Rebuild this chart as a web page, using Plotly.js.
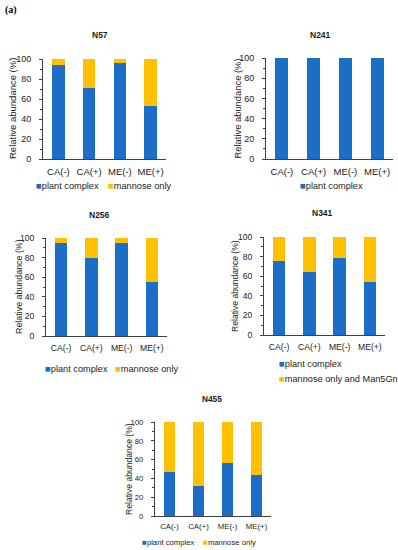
<!DOCTYPE html>
<html>
<head>
<meta charset="utf-8">
<script src="https://cdn.plot.ly/plotly-3.0.1.min.js"></script>
<style>html,body{margin:0;padding:0;background:#fff;}#chart{width:398px;height:550px;}</style>
</head>
<body>
<div id="chart"></div>
<script>
// ---- data ----
var categories = ['CA(-)', 'CA(+)', 'ME(-)', 'ME(+)'];
var panelTitles = ['N57', 'N241', 'N256', 'N341', 'N455'];
var n57Plant = [94, 71, 96, 53];
var n57Mannose = [6, 29, 4, 47];
var n241Plant = [100, 100, 100, 100];
var n256Plant = [95, 80, 95, 55];
var n256Mannose = [5, 20, 5, 45];
var n341Plant = [76, 64, 79, 54];
var n341Mannose = [24, 36, 21, 46];
var n455Plant = [47, 32, 56, 44];
var n455Mannose = [53, 68, 44, 56];
var yTickVals = [0, 20, 40, 60, 80, 100];
var seriesNames = ['plant complex', 'mannose only', 'mannose only and Man5Gn'];

// ---- style ----
var W = 398, H = 550;
var BLUE = '#1C6DC8', YELLOW = '#FFC000';
var FONT = 'Arial, "Liberation Sans", sans-serif';
var TXT = '#222';
function px(x) { return x / W; }
function py(y) { return 1 - y / H; }

// panel boxes in pixels: [x0, x1, yTop, yBottom]
var boxes = [
  [43, 166, 59, 159],
  [266, 393, 58, 159],
  [46, 167, 238, 336],
  [264, 385, 237, 335],
  [155, 271, 422, 516]
];
var tickSize = [9.5, 9.5, 8.6, 8.6, 7.8];
var yTickSize = [9, 9, 8.6, 8.6, 7.8];
var titleSize = [8.5, 8.5, 8.5, 8.5, 8.3];
var yTitleSize = [9.5, 9.4, 8.9, 8.6, 8.6];
var legendSize = [9.2, 9.2, 9.2, 9.2, 7.7];

var panels = [
  [n57Plant, n57Mannose, seriesNames[1]],
  [n241Plant, null, null],
  [n256Plant, n256Mannose, seriesNames[1]],
  [n341Plant, n341Mannose, seriesNames[2]],
  [n455Plant, n455Mannose, seriesNames[1]]
];

var traces = [];
var layout = {
  width: W, height: H,
  margin: {l: 0, r: 0, t: 0, b: 0},
  paper_bgcolor: '#fff', plot_bgcolor: '#fff',
  barmode: 'stack', bargap: 0.59,
  showlegend: false,
  font: {family: FONT, color: TXT, size: 9.5},
  annotations: [],
  shapes: []
};

panels.forEach(function (p, i) {
  var n = i === 0 ? '' : String(i + 1);
  var xa = 'x' + n, ya = 'y' + n;
  var b = boxes[i];
  traces.push({
    type: 'bar', x: categories, y: p[0], name: seriesNames[0],
    marker: {color: BLUE, line: {width: 0}}, xaxis: xa, yaxis: ya,
    hoverinfo: 'x+y+name'
  });
  if (p[1]) {
    traces.push({
      type: 'bar', x: categories, y: p[1], name: p[2],
      marker: {color: YELLOW, line: {width: 0}}, xaxis: xa, yaxis: ya,
      hoverinfo: 'x+y+name'
    });
  }
  layout['xaxis' + n] = {
    domain: [px(b[0]), px(b[1])], anchor: ya,
    type: 'category',
    showline: true, linecolor: '#404040', linewidth: 1,
    ticks: '', showgrid: false, zeroline: false,
    ticklabelstandoff: i === 4 ? 3 : 4,
    tickfont: {family: FONT, size: tickSize[i], color: TXT},
    fixedrange: true
  };
  layout['yaxis' + n] = {
    domain: [py(b[3]), py(b[2])], anchor: xa,
    range: [0, 100], tickvals: yTickVals,
    showline: true, linecolor: '#404040', linewidth: 1,
    ticks: 'outside', ticklen: 3, tickcolor: '#404040',
    ticklabelstandoff: 6,
    minor: {ticks: 'outside', ticklen: 2, dtick: 10, tickcolor: '#404040'},
    showgrid: false, zeroline: false,
    tickfont: {family: FONT, size: yTickSize[i], color: TXT},
    fixedrange: true
  };
});

// panel titles
var titlePos = [[100, 35], [320, 35], [100, 215], [322, 213], [212, 399]];
panelTitles.forEach(function (t, i) {
  layout.annotations.push({
    text: '<b>' + t + '</b>', xref: 'paper', yref: 'paper',
    x: px(titlePos[i][0]), y: py(titlePos[i][1]),
    xanchor: 'center', yanchor: 'middle', showarrow: false,
    font: {family: FONT, size: titleSize[i], color: TXT}
  });
});

// y axis titles
var yTitleX = [12, 237, 19, 235, 129];
boxes.forEach(function (b, i) {
  layout.annotations.push({
    text: 'Relative abundance (%)', xref: 'paper', yref: 'paper',
    x: px(yTitleX[i]), y: py((b[2] + b[3]) / 2),
    xanchor: 'center', yanchor: 'middle', textangle: -90, showarrow: false,
    font: {family: FONT, size: yTitleSize[i], color: TXT}
  });
});

// legends (square marker + text)
function legendItem(x, y, color, label, size) {
  layout.annotations.push({
    text: '<span style="color:' + color + ';font-size:' + (size * 1.05) + 'px">■</span>' + label,
    xref: 'paper', yref: 'paper', x: px(x), y: py(y),
    xanchor: 'left', yanchor: 'middle', showarrow: false,
    font: {family: FONT, size: size, color: TXT}
  });
}
legendItem(34, 186, BLUE, seriesNames[0], legendSize[0]);
legendItem(106, 186, YELLOW, seriesNames[1], legendSize[0]);
legendItem(298, 186, BLUE, seriesNames[0], legendSize[1]);
legendItem(43, 368, BLUE, seriesNames[0], legendSize[2]);
legendItem(113, 368, YELLOW, seriesNames[1], legendSize[2]);
legendItem(277, 363, BLUE, seriesNames[0], legendSize[3]);
legendItem(277, 378, YELLOW, seriesNames[2], legendSize[3]);
legendItem(140, 542, BLUE, seriesNames[0], legendSize[4]);
legendItem(201, 542, YELLOW, seriesNames[1], legendSize[4]);

// panel label
layout.annotations.push({
  text: '<b>(a)</b>', xref: 'paper', yref: 'paper', x: px(3), y: py(10),
  xanchor: 'left', yanchor: 'middle', showarrow: false,
  font: {family: '"Liberation Serif", "Times New Roman", serif', size: 10, color: '#000'}
});

Plotly.newPlot('chart', traces, layout, {displayModeBar: false, staticPlot: true});
</script>
</body>
</html>
